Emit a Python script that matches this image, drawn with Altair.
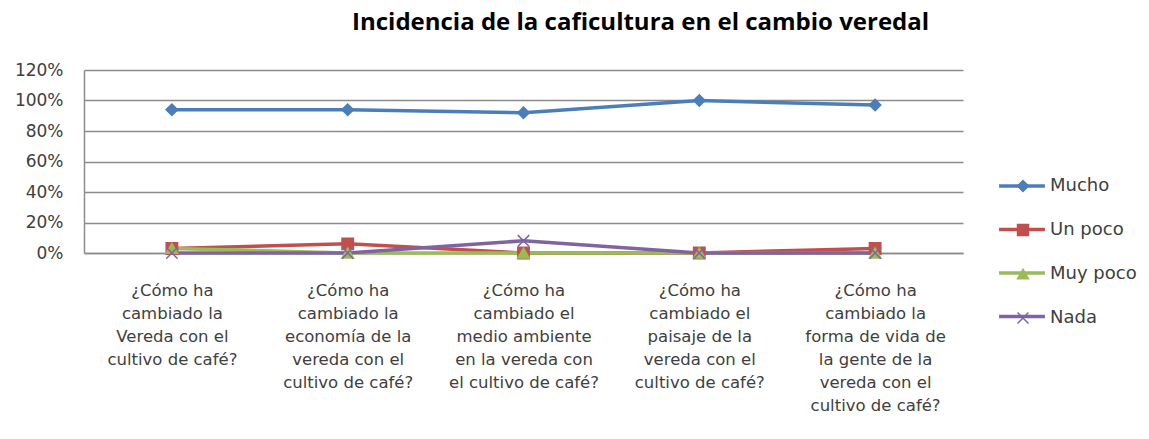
import altair as alt
import pandas as pd

categories = [
    "¿Cómo ha|cambiado la|Vereda con el|cultivo de café?",
    "¿Cómo ha|cambiado la|economía de la|vereda con el|cultivo de café?",
    "¿Cómo ha|cambiado el|medio ambiente|en la vereda con|el cultivo de café?",
    "¿Cómo ha|cambiado el|paisaje de la|vereda con el|cultivo de café?",
    "¿Cómo ha|cambiado la|forma de vida de|la gente de la|vereda con el|cultivo de café?",
]
series = ["Mucho", "Un poco", "Muy poco", "Nada"]
mucho = [0.94, 0.94, 0.92, 1.00, 0.97]
un_poco = [0.03, 0.06, 0.00, 0.00, 0.03]
muy_poco = [0.03, 0.00, 0.00, 0.00, 0.00]
nada = [0.00, 0.00, 0.08, 0.00, 0.00]

colors = ["#4A7EBB", "#C0504D", "#9BBB59", "#8064A2"]
shapes = ["diamond", "square", "triangle-up", "M-1,-1L1,1M-1,1L1,-1"]

series_b = [s + " " for s in series]  # copy for the line-only legend (kept distinct)

rows = []
for s, sb, vals in zip(series, series_b, [mucho, un_poco, muy_poco, nada]):
    for c, v in zip(categories, vals):
        rows.append({"pregunta": c, "serie": s, "serie_b": sb, "valor": v})
df = pd.DataFrame(rows)

FONT = "DejaVu Sans"
TFONT = "Open Sans"
TXT = "#404040"

x = alt.X("pregunta:N", sort=categories, title=None,
          scale=alt.Scale(padding=0.5),
          axis=alt.Axis(labelAngle=0, labelExpr="split(datum.label, '|')",
                        labelLineHeight=23, labelFontSize=16.5, labelFont=FONT,
                        labelColor=TXT, labelPadding=29, ticks=False,
                        domainColor="#8c8c8c", domainWidth=1.5, labelLimit=300))
y = alt.Y("valor:Q", title=None,
          scale=alt.Scale(domain=[0, 1.2], nice=False),
          axis=alt.Axis(format=".0%", values=[0, 0.2, 0.4, 0.6, 0.8, 1.0, 1.2],
                        labelFontSize=17, labelFont=FONT, labelColor=TXT,
                        ticks=False, labelPadding=21, domainColor="#8c8c8c",
                        domainWidth=1.5, gridColor="#8c8c8c", gridWidth=1.5))

lines = alt.Chart(df).mark_line(strokeWidth=3.5).encode(
    x=x, y=y,
    color=alt.Color("serie_b:N", sort=series_b,
                    scale=alt.Scale(domain=series_b, range=colors),
                    legend=alt.Legend(title=None, orient="none", legendX=913, legendY=91,
                                      symbolType="stroke", symbolSize=2100,
                                      symbolStrokeWidth=3.5, labelOpacity=0,
                                      labelFontSize=18, rowPadding=9.5,
                                      labelFont=FONT)),
    order=alt.Order("serie_b:N", sort="ascending"),
)

points = alt.Chart(df).mark_point(filled=True, opacity=1, size=130, strokeWidth=1.5).encode(
    x=x, y=y,
    fill=alt.Fill("serie:N", sort=series,
                  scale=alt.Scale(domain=series, range=colors),
                  legend=alt.Legend(title=None, orient="none", legendX=930, legendY=107,
                                    labelFontSize=18, labelFont=FONT, labelColor=TXT,
                                    rowPadding=26, labelOffset=18, symbolSize=120,
                                    symbolStrokeWidth=1.5)),
    stroke=alt.Stroke("serie:N", sort=series,
                      scale=alt.Scale(domain=series, range=colors)),
    shape=alt.Shape("serie:N", sort=series,
                    scale=alt.Scale(domain=series, range=shapes)),
)

chart = alt.layer(lines, points).properties(
    width=879, height=183,
    title=alt.Title("Incidencia de la caficultura en el cambio veredal",
                    font=TFONT, fontSize=24, fontWeight="bold", color="#000000",
                    anchor="start", frame="group", dx=268, offset=26),
    autosize=alt.AutoSizeParams(type="none"),
    padding={"left": 76, "top": 62, "right": 177, "bottom": 170},
).configure_view(stroke=None).configure_axis(gridOpacity=1)

chart.save("out.html", embed_options={"renderer": "svg", "actions": False})
